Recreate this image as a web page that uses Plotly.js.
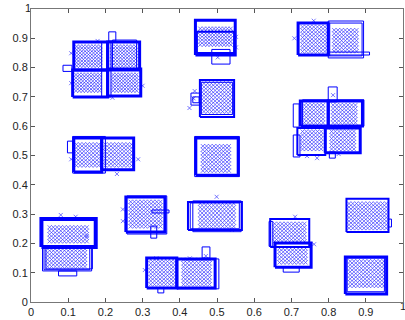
<!DOCTYPE html>
<html>
<head>
<meta charset="utf-8">
<script src="https://cdn.plot.ly/plotly-3.0.1.min.js"></script>
<style>html,body{margin:0;padding:0;background:#fff;}#chart{width:405px;height:320px;}</style>
</head>
<body>
<div id="chart"></div>
<script>
// ---- cluster point grids (column x values, row y values) ----
const clusterNames = ["A1","A2","A3","A4","B","C1","C2","D","E1","E2","E3","E4","F1","F2","G","H1","H2","I","J","K1","K2","L1","L2","M","N"];
const clusterCols = [
  [0.123,0.132,0.141,0.150,0.159,0.168,0.177,0.186],
  [0.218,0.227,0.236,0.245,0.254,0.263,0.272,0.281],
  [0.121,0.130,0.139,0.148,0.157,0.166,0.175,0.184],
  [0.221,0.230,0.239,0.248,0.257,0.266,0.275,0.284],
  [0.455,0.465,0.474,0.483,0.492,0.501,0.510,0.519,0.528,0.537],
  [0.730,0.740,0.750,0.760,0.770,0.780,0.790],
  [0.815,0.825,0.835,0.845,0.855,0.865,0.875],
  [0.465,0.475,0.485,0.495,0.505,0.515,0.525,0.535],
  [0.735,0.745,0.755,0.765,0.775,0.785],
  [0.812,0.822,0.832,0.842,0.852,0.862,0.872],
  [0.730,0.740,0.750,0.760,0.770,0.780],
  [0.808,0.818,0.828,0.838,0.848,0.858,0.868],
  [0.122,0.132,0.142,0.152,0.162,0.172,0.182],
  [0.200,0.210,0.220,0.230,0.240,0.250,0.260,0.270],
  [0.462,0.472,0.482,0.492,0.502,0.512,0.522,0.532],
  [0.050,0.060,0.070,0.080,0.090,0.100,0.110,0.120,0.130,0.140,0.150],
  [0.045,0.055,0.065,0.075,0.085,0.095,0.105,0.115,0.125,0.135,0.145],
  [0.268,0.278,0.288,0.298,0.308,0.318,0.328,0.338,0.348],
  [0.455,0.465,0.475,0.485,0.495,0.505,0.515,0.525,0.535,0.545],
  [0.322,0.332,0.342,0.352,0.362,0.372,0.382],
  [0.410,0.420,0.430,0.440,0.450,0.460,0.470,0.480],
  [0.655,0.665,0.675,0.685,0.695,0.705,0.715,0.725,0.735],
  [0.668,0.678,0.688,0.698,0.708,0.718,0.728,0.738],
  [0.855,0.865,0.875,0.885,0.895,0.905,0.915,0.925,0.935,0.945,0.955],
  [0.858,0.868,0.878,0.888,0.898,0.908,0.918,0.928,0.938,0.948]
];
const clusterRows = [
  [0.806,0.817,0.828,0.839,0.850,0.861,0.872],
  [0.806,0.817,0.828,0.839,0.850,0.861,0.872],
  [0.721,0.732,0.743,0.754,0.765,0.776],
  [0.721,0.732,0.743,0.754,0.765,0.776],
  [0.878,0.889,0.900,0.911,0.922,0.933],
  [0.855,0.867,0.879,0.891,0.903,0.915,0.927,0.939],
  [0.856,0.868,0.880,0.892,0.904,0.916,0.928],
  [0.650,0.662,0.674,0.686,0.698,0.710,0.722,0.734,0.746],
  [0.612,0.624,0.636,0.648,0.660,0.672],
  [0.612,0.624,0.636,0.648,0.660,0.672],
  [0.522,0.534,0.546,0.558,0.570,0.582],
  [0.522,0.534,0.546,0.558,0.570,0.582],
  [0.466,0.478,0.490,0.502,0.514,0.526,0.538],
  [0.466,0.478,0.490,0.502,0.514,0.526,0.538],
  [0.448,0.460,0.472,0.484,0.496,0.508,0.520,0.532],
  [0.207,0.219,0.231,0.243,0.255],
  [0.121,0.133,0.145,0.157,0.169,0.181],
  [0.258,0.270,0.282,0.294,0.306,0.318,0.330,0.342],
  [0.258,0.271,0.284,0.297,0.310,0.323,0.336],
  [0.060,0.072,0.084,0.096,0.108,0.120,0.132,0.144],
  [0.060,0.072,0.084,0.096,0.108,0.120,0.132,0.144],
  [0.207,0.219,0.231,0.243,0.255,0.267],
  [0.135,0.147,0.159,0.171,0.183],
  [0.252,0.264,0.276,0.288,0.300,0.312,0.324,0.336],
  [0.055,0.067,0.079,0.091,0.103,0.115,0.127,0.139]
];
// ---- isolated points ----
const strayX = [0.108,0.108,0.300,0.219,0.179,0.502,0.551,0.551,0.708,0.760,0.426,0.437,0.440,0.812,0.742,0.769,0.827,0.108,0.288,0.231,0.080,0.120,0.150,0.247,0.247,0.499,0.540,0.306,0.337,0.470,0.427,0.710,0.761];
const strayY = [0.849,0.747,0.738,0.697,0.891,0.835,0.905,0.869,0.900,0.960,0.662,0.695,0.720,0.706,0.498,0.491,0.505,0.487,0.487,0.437,0.297,0.291,0.225,0.316,0.276,0.359,0.246,0.109,0.149,0.157,0.149,0.291,0.197];
// ---- rectangles (x0, x1, y0, y1) ----
const rectX0 = [0.115,0.206,0.112,0.206,0.086,0.209,0.219,0.190, 0.442,0.446,0.486, 0.718,0.799,0.803,0.800, 0.454,0.458,0.430,0.435, 0.724,0.799,0.716,0.791,0.705,0.705,0.799,0.802,0.730, 0.115,0.190,0.098,0.112, 0.443,0.440, 0.028,0.031,0.035,0.040,0.074, 0.255,0.258,0.322,0.325, 0.422,0.428,0.435, 0.311,0.392,0.392,0.341,0.460, 0.643,0.640,0.656,0.678, 0.848,0.961, 0.845,0.850];
const rectX1 = [0.206,0.292,0.206,0.295,0.110,0.228,0.284,0.215, 0.549,0.546,0.535, 0.799,0.894,0.890,0.910, 0.546,0.542,0.454,0.452, 0.799,0.891,0.791,0.885,0.721,0.723,0.823,0.818,0.895, 0.190,0.276,0.112,0.200, 0.557,0.560, 0.174,0.163,0.158,0.165,0.123, 0.360,0.365,0.338,0.371, 0.567,0.560,0.565, 0.392,0.495,0.505,0.357,0.481, 0.748,0.650,0.753,0.721, 0.961,0.969, 0.956,0.950];
const rectY0 = [0.792,0.792,0.700,0.703,0.787,0.891,0.792,0.700, 0.843,0.850,0.812, 0.843,0.833,0.840,0.843, 0.631,0.640,0.672,0.680, 0.601,0.601,0.502,0.509,0.597,0.495,0.683,0.491,0.600, 0.444,0.451,0.509,0.440, 0.433,0.428, 0.188,0.106,0.110,0.113,0.089, 0.239,0.232,0.218,0.304, 0.246,0.250,0.240, 0.048,0.048,0.045,0.031,0.150, 0.188,0.190,0.119,0.102, 0.239,0.256, 0.027,0.035];
const rectY1 = [0.887,0.887,0.792,0.795,0.808,0.922,0.894,0.887, 0.962,0.922,0.862, 0.952,0.959,0.952,0.853, 0.758,0.750,0.713,0.700, 0.686,0.686,0.594,0.594,0.676,0.570,0.734,0.512,0.690, 0.560,0.560,0.549,0.565, 0.560,0.565, 0.283,0.188,0.185,0.190,0.106, 0.358,0.362,0.259,0.314, 0.341,0.338,0.345, 0.150,0.147,0.147,0.048,0.188, 0.283,0.275,0.201,0.119, 0.352,0.283, 0.154,0.150];
// style: outline widths per rectangle
const rectLineWidths = [3,3,3,3,1,1,1,1, 3,2,1, 3,1,1,1, 2,1,1,1, 3,3,2,3,1,1,1,1,1, 3,3,1,1, 3,1, 4,1,1,1,1, 3,1,1,1, 2,1,1, 3,3,1,1,1, 2,1,3,1, 2,1, 3,1];
// ---- axis ticks ----
const tickVals = [0,0.1,0.2,0.3,0.4,0.5,0.6,0.7,0.8,0.9];
const tickText = ["0","0.1","0.2","0.3","0.4","0.5","0.6","0.7","0.8","0.9"];
const endTickVal = 1;
const endLabel = "1";

const blue = "#0000ff";
const traces = [];

// points
const px = [], py = [];
clusterCols.forEach((cols, i) => {
  clusterRows[i].forEach(yv => { cols.forEach(xv => { px.push(xv); py.push(yv); }); });
});
strayX.forEach((v, i) => { px.push(v); py.push(strayY[i]); });
traces.push({
  type: "scatter", mode: "markers", x: px, y: py, hoverinfo: "skip",
  marker: { symbol: "x-thin-open", size: 4, color: "rgba(60,60,255,0.7)", line: { width: 1, color: "rgba(60,60,255,0.7)" } }
});

// rectangles grouped by width
const widths = [...new Set(rectLineWidths)];
widths.forEach(w => {
  const rx = [], ry = [];
  rectX0.forEach((x0, i) => {
    if (rectLineWidths[i] !== w) return;
    const x1 = rectX1[i], y0 = rectY0[i], y1 = rectY1[i];
    rx.push(x0, x1, x1, x0, x0, null);
    ry.push(y0, y0, y1, y1, y0, null);
  });
  traces.push({ type: "scatter", mode: "lines", x: rx, y: ry, hoverinfo: "skip",
    line: { color: blue, width: w }, connectgaps: false });
});

const tickFont = { family: "Liberation Sans, Arial, sans-serif", size: 11, color: "#222" };

// end-of-axis "1" labels, drawn as text placed at the axis ends (outside the plot area)
traces.push({
  type: "scatter", mode: "text", x: [endTickVal], y: [0], text: [endLabel],
  textposition: "bottom center", cliponaxis: false, hoverinfo: "skip",
  textfont: { family: tickFont.family, size: tickFont.size, color: tickFont.color }
});
traces.push({
  type: "scatter", mode: "text", x: [0], y: [endTickVal], text: [endLabel],
  textposition: "middle left", cliponaxis: false, hoverinfo: "skip",
  textfont: { family: tickFont.family, size: tickFont.size, color: tickFont.color }
});

const axisCommon = {
  range: [0, 1], tickvals: tickVals, ticktext: tickText,
  ticks: "inside", ticklen: 4, tickwidth: 1, tickcolor: "#555",
  showline: true, linecolor: "#777", linewidth: 1, mirror: "ticks",
  showgrid: false, zeroline: false,
  tickfont: tickFont
};

const layout = {
  width: 405, height: 320,
  margin: { l: 31, r: 2, t: 9, b: 18, pad: 0 },
  paper_bgcolor: "#fff", plot_bgcolor: "#fff",
  showlegend: false,
  xaxis: Object.assign({}, axisCommon),
  yaxis: Object.assign({}, axisCommon)
};

Plotly.newPlot("chart", traces, layout, { displayModeBar: false });
</script>
</body>
</html>
